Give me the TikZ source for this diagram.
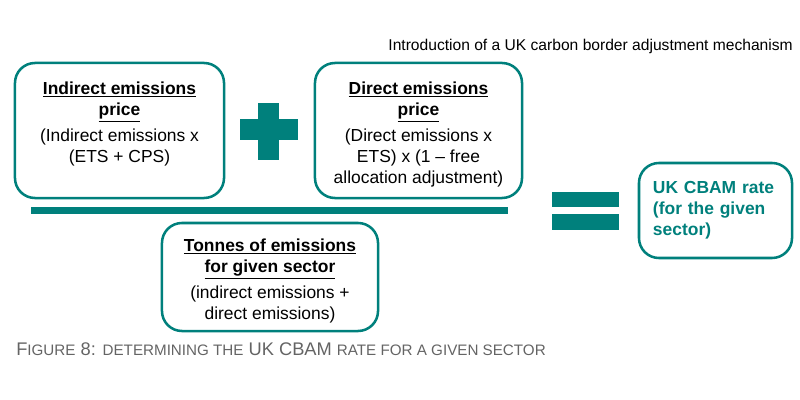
\documentclass[tikz,border=0pt]{standalone}
\usepackage{fontspec}
\setmainfont{Liberation Sans}
\definecolor{cbteal}{RGB}{0,128,124}
\definecolor{capgray}{RGB}{100,100,100}
\newcommand{\boxfont}{\fontsize{12.4}{15}\selectfont}
\newcommand{\sclet}[1]{{\fontsize{10.8}{13}\selectfont #1}}

\begin{document}
\begin{tikzpicture}[x=0.025cm, y=-0.025cm, box/.style={draw=cbteal, line width=1.8pt, rounded corners=0.5cm, font=\boxfont, align=center, inner sep=0pt}, optile/.style={fill=cbteal}]
	\useasboundingbox (0,0) rectangle (800,400);
	\node[anchor=base east, font=\fontsize{11.1}{13}\selectfont, inner sep=0pt] (heading) at (793,51) {Introduction of a UK carbon border adjustment mechanism};
	\node[box, minimum width=5.225cm, minimum height=3.375cm] (indirect) at (119.5,130.5) {\parbox[c][2.425cm][t]{5cm}{\centering\underline{\textbf{Indirect emissions}}\\ \underline{\textbf{price}}\\[3.5pt] (Indirect emissions x\\ (ETS + CPS)}};
	\node[box, minimum width=5.175cm, minimum height=3.375cm] (direct) at (418.5,130.5) {\parbox[c][2.425cm][t]{5cm}{\centering\underline{\textbf{Direct emissions}}\\ \underline{\textbf{price}}\\[3.5pt] (Direct emissions x\\ ETS) x (1 – free\\ allocation adjustment)}};
	\fill[optile] (240,119) rectangle (298,140);
	\fill[optile] (258,103) rectangle (279,160);
	\fill[optile] (31,207) rectangle (508,214);
	\node[box, minimum width=5.4cm, minimum height=2.7cm] (tonnes) at (270,277) {\parbox[c][2.3cm][c]{5cm}{\centering\vspace*{6pt}\underline{\textbf{Tonnes of emissions}}\\ \underline{\textbf{for given sector}}\\[3.5pt] (indirect emissions +\\ direct emissions)}};
	\fill[optile] (552,192) rectangle (619,207);
	\fill[optile] (552,214) rectangle (619,230);
	\node[box, text=cbteal, font=\boxfont\bfseries, align=left, text width=3.125cm, inner xsep=0.35cm, minimum height=2.375cm] (rate) at (715.5,210.5) {UK CBAM rate\\ (for the given\\ sector)};
	\node[anchor=base west, text=capgray, font=\fontsize{13}{15}\selectfont, inner sep=0pt] (caption) at (16,355) {F\sclet{IGURE} 8: \sclet{DETERMINING THE} UK CBAM \sclet{RATE FOR A GIVEN SECTOR}};
\end{tikzpicture}
\end{document}
